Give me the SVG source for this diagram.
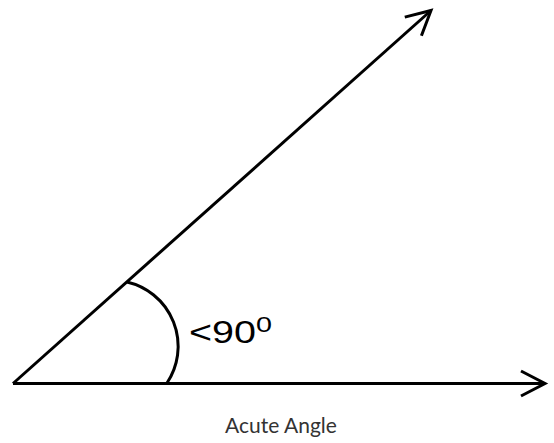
<svg xmlns="http://www.w3.org/2000/svg" width="554" height="443" viewBox="0 0 554 443">
<defs>
<style>
.ray{stroke:#000;stroke-width:3;fill:none;marker-end:url(#arrow)}
.arc{stroke:#000;stroke-width:3;fill:none}
.lbl{font-family:"Liberation Sans",Arial,sans-serif;fill:#000}
.cap{font-family:Lato,"Open Sans",sans-serif;font-size:21px;fill:#333}
</style>
<marker id="arrow" markerUnits="userSpaceOnUse" markerWidth="40" markerHeight="40" refX="0" refY="0" viewBox="-30 -20 40 40" orient="auto" overflow="visible">
<path d="M-24,-12.5 L0,0 L-24,12.5" fill="none" stroke="#000" stroke-width="3" stroke-linejoin="miter"/>
</marker>
</defs>
<rect width="554" height="443" fill="#fff"/>
<g id="connectors">
<line class="ray" x1="13" y1="383.5" x2="545" y2="383.5"/>
<line class="ray" x1="13" y1="383.5" x2="431" y2="10.5"/>
</g>
<g id="angle">
<path class="arc" d="M127,282 A66,66 0 0 1 167,383"/>
<text class="lbl" x="189" y="343" font-size="31" textLength="67" lengthAdjust="spacingAndGlyphs">&lt;90</text>
<text class="lbl" x="256" y="332" font-size="22" textLength="16" lengthAdjust="spacingAndGlyphs">0</text>
</g>
<g id="caption">
<text class="cap" x="281" y="433" text-anchor="middle">Acute Angle</text>
</g>
</svg>
